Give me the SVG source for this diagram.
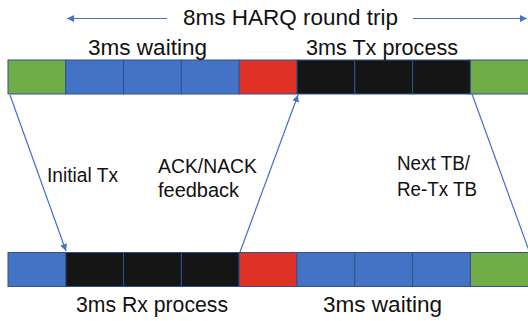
<svg xmlns="http://www.w3.org/2000/svg" width="528" height="321" viewBox="0 0 528 321">
<defs>
<marker id="ah" viewBox="0 0 10 10" refX="10" refY="5" markerWidth="7" markerHeight="7" orient="auto-start-reverse" markerUnits="userSpaceOnUse">
<path d="M0,0 L10,5 L0,10 z" fill="#4472C4"/>
</marker>
<style>
.t{font-family:"Liberation Sans",Arial,sans-serif;fill:#111;}
.big{font-size:22px;}
.mid{font-size:20px;}
.c{stroke:#2F528F;stroke-width:1;}
.g{fill:#70AD47;}
.b{fill:#4472C4;}
.r{fill:#E03226;}
.k{fill:#151515;}
.ln{stroke:#4472C4;stroke-width:1.2;fill:none;}
</style>
</defs>
<rect width="528" height="321" fill="#fff"/>
<g id="title">
<line class="ln" x1="167" y1="18.5" x2="67" y2="18.5" marker-end="url(#ah)"/>
<line class="ln" x1="413" y1="18.5" x2="527" y2="18.5" marker-end="url(#ah)"/>
<text class="t big" x="183" y="25" textLength="215" lengthAdjust="spacingAndGlyphs">8ms HARQ round trip</text>
</g>
<g id="top-row">
<rect class="c g" x="8" y="60" width="57.8" height="34"/>
<rect class="c b" x="65.8" y="60" width="57.8" height="34"/>
<rect class="c b" x="123.6" y="60" width="57.8" height="34"/>
<rect class="c b" x="181.4" y="60" width="57.8" height="34"/>
<rect class="c r" x="239.2" y="60" width="57.8" height="34"/>
<rect class="c k" x="297" y="60" width="57.8" height="34"/>
<rect class="c k" x="354.8" y="60" width="57.8" height="34"/>
<rect class="c k" x="412.6" y="60" width="57.8" height="34"/>
<rect class="c g" x="470.4" y="60" width="70" height="34"/>
</g>
<g id="bottom-row">
<rect class="c b" x="8" y="252.5" width="57.8" height="34"/>
<rect class="c k" x="65.8" y="252.5" width="57.8" height="34"/>
<rect class="c k" x="123.6" y="252.5" width="57.8" height="34"/>
<rect class="c k" x="181.4" y="252.5" width="57.8" height="34"/>
<rect class="c r" x="239.2" y="252.5" width="57.8" height="34"/>
<rect class="c b" x="297" y="252.5" width="57.8" height="34"/>
<rect class="c b" x="354.8" y="252.5" width="57.8" height="34"/>
<rect class="c b" x="412.6" y="252.5" width="57.8" height="34"/>
<rect class="c g" x="470.4" y="252.5" width="70" height="34"/>
</g>
<g id="connectors">
<line class="ln" x1="10" y1="95" x2="66" y2="251" marker-end="url(#ah)"/>
<line class="ln" x1="240" y1="252" x2="298" y2="95" marker-end="url(#ah)"/>
<line class="ln" x1="472" y1="94" x2="536" y2="270" marker-end="url(#ah)"/>
</g>
<g id="labels">
<text class="t big" x="88" y="55" textLength="119" lengthAdjust="spacingAndGlyphs">3ms waiting</text>
<text class="t big" x="306" y="55" textLength="152" lengthAdjust="spacingAndGlyphs">3ms Tx process</text>
<text class="t mid" x="47" y="182" textLength="71" lengthAdjust="spacingAndGlyphs">Initial Tx</text>
<text class="t mid" x="158" y="173" textLength="99" lengthAdjust="spacingAndGlyphs">ACK/NACK</text>
<text class="t mid" x="158" y="197" textLength="81" lengthAdjust="spacingAndGlyphs">feedback</text>
<text class="t mid" x="397" y="170" textLength="73" lengthAdjust="spacingAndGlyphs">Next TB/</text>
<text class="t mid" x="397" y="196" textLength="80" lengthAdjust="spacingAndGlyphs">Re-Tx TB</text>
<text class="t big" x="76" y="312" textLength="152" lengthAdjust="spacingAndGlyphs">3ms Rx process</text>
<text class="t big" x="323" y="312" textLength="119" lengthAdjust="spacingAndGlyphs">3ms waiting</text>
</g>
</svg>
